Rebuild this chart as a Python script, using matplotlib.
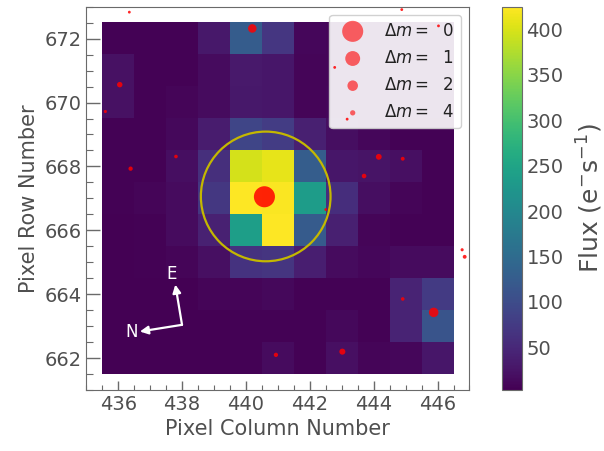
import matplotlib.pyplot as plt
import numpy as np
from matplotlib.patches import Circle
from matplotlib.ticker import MultipleLocator

# Data: pixel flux (e-/s), rows listed top (672) to bottom (662), columns 436..446
columns = np.arange(436, 447)
rows = np.arange(672, 661, -1)
flux = np.array([
    [5, 5, 5, 30, 125, 70, 10, 8, 8, 8, 8],
    [22, 5, 5, 15, 32, 28, 8, 8, 8, 8, 8],
    [22, 5, 8, 15, 30, 28, 8, 10, 8, 8, 8],
    [5, 5, 12, 35, 92, 78, 40, 18, 10, 6, 5],
    [5, 5, 18, 60, 398, 410, 128, 28, 25, 20, 6],
    [5, 8, 15, 72, 424, 422, 236, 58, 18, 8, 6],
    [4, 5, 15, 42, 240, 425, 124, 40, 9, 5, 5],
    [3, 5, 8, 20, 65, 68, 38, 15, 10, 15, 15],
    [3, 3, 3, 8, 8, 12, 6, 5, 6, 45, 75],
    [3, 3, 3, 4, 5, 6, 6, 12, 5, 45, 112],
    [3, 3, 3, 4, 6, 16, 6, 20, 8, 10, 28],
])

# Gaia sources: column, row, magnitude difference to target
gaia_col = [440.58, 440.20, 445.88, 436.05, 444.16, 443.02, 436.39, 443.70,
            440.94, 444.91, 437.81, 444.91, 446.85, 446.77, 435.60, 442.50,
            436.35, 444.88, 446.03, 442.78, 443.17]
gaia_row = [667.05, 672.32, 663.43, 670.56, 668.30, 662.20, 667.93, 667.70,
            662.10, 668.24, 668.31, 663.85, 665.17, 665.39, 669.72, 666.65,
            672.83, 672.91, 672.40, 671.10, 669.48]
gaia_dm = [0.0, 2.6, 2.3, 3.9, 3.7, 3.6, 4.6, 4.4,
           4.6, 4.9, 5.1, 5.1, 4.9, 5.5, 5.5, 5.8,
           5.8, 5.8, 5.8, 5.8, 5.8]
legend_dm = [0, 1, 2, 4]

aperture_center = (440.62, 667.06)
aperture_radius = 2.03

text_gray = '#4f4f4f'
spine_gray = '#6a6a6a'

fig = plt.figure(figsize=(6.04, 4.51), dpi=100)
ax = fig.add_axes([0.1407, 0.1353, 0.6386, 0.8498])
cax = fig.add_axes([0.8306, 0.1353, 0.0331, 0.8498])

im = ax.imshow(flux, cmap='viridis', origin='upper', interpolation='nearest',
               extent=(columns[0] - 0.5, columns[-1] + 0.5, rows[-1] - 0.5, rows[0] + 0.5),
               vmin=flux.min(), vmax=flux.max())

# aperture
ax.add_patch(Circle(aperture_center, aperture_radius, fill=False,
                    edgecolor='#c4b800', lw=1.6, zorder=5))

# gaia sources
s0 = 230.0
sizes = [s0 / 2 ** dm for dm in gaia_dm]
ax.scatter(gaia_col, gaia_row, s=sizes, c='red', alpha=0.85,
           edgecolors='none', zorder=10, clip_on=False)
for dm in legend_dm:
    ax.scatter([], [], s=s0 / 2 ** dm, c='red', alpha=0.6,
               edgecolors='none', label=r'$\Delta m=$  ' + str(dm))

leg = ax.legend(loc='upper right', fontsize=12, framealpha=0.9,
                labelspacing=0.55, handletextpad=0.9)
for t in leg.get_texts():
    t.set_color('#222222')

# compass
origin = (438.0, 663.04)
ax.annotate('', xy=(437.79, 664.3), xytext=origin,
            arrowprops=dict(arrowstyle='-|>', color='white', lw=1.6,
                            mutation_scale=12, shrinkA=0, shrinkB=0))
ax.annotate('', xy=(436.68, 662.83), xytext=origin,
            arrowprops=dict(arrowstyle='-|>', color='white', lw=1.6,
                            mutation_scale=12, shrinkA=0, shrinkB=0))
ax.text(437.66, 664.62, 'E', color='white', fontsize=12, ha='center', va='center')
ax.text(436.41, 662.80, 'N', color='white', fontsize=12, ha='center', va='center')

ax.set_xlim(435, 447)
ax.set_ylim(661, 673)
ax.set_xlabel('Pixel Column Number', fontsize=15, color=text_gray)
ax.set_ylabel('Pixel Row Number', fontsize=15, color=text_gray)
ax.xaxis.set_major_locator(MultipleLocator(2))
ax.yaxis.set_major_locator(MultipleLocator(2))
ax.xaxis.set_minor_locator(MultipleLocator(0.5))
ax.yaxis.set_minor_locator(MultipleLocator(0.5))
ax.tick_params(axis='both', which='both', direction='in', colors=spine_gray,
               labelcolor=text_gray, labelsize=14, top=False, right=False)
ax.tick_params(axis='x', which='major', length=6.5, width=1)
ax.tick_params(axis='x', which='minor', length=3.5, width=0.8)
ax.tick_params(axis='y', which='major', length=10, width=1)
ax.tick_params(axis='y', which='minor', length=5, width=0.8)
for sp in ax.spines.values():
    sp.set_color(spine_gray)

cb = fig.colorbar(im, cax=cax)
cb.set_ticks([50, 100, 150, 200, 250, 300, 350, 400])
cb.ax.tick_params(labelsize=14, labelcolor=text_gray, length=0)
cb.outline.set_edgecolor(spine_gray)
cb.set_label(r'Flux ($\mathrm{e^{-}s^{-1}}$)', fontsize=18, color=text_gray, labelpad=8)

fig.savefig('out.png', dpi=100)
